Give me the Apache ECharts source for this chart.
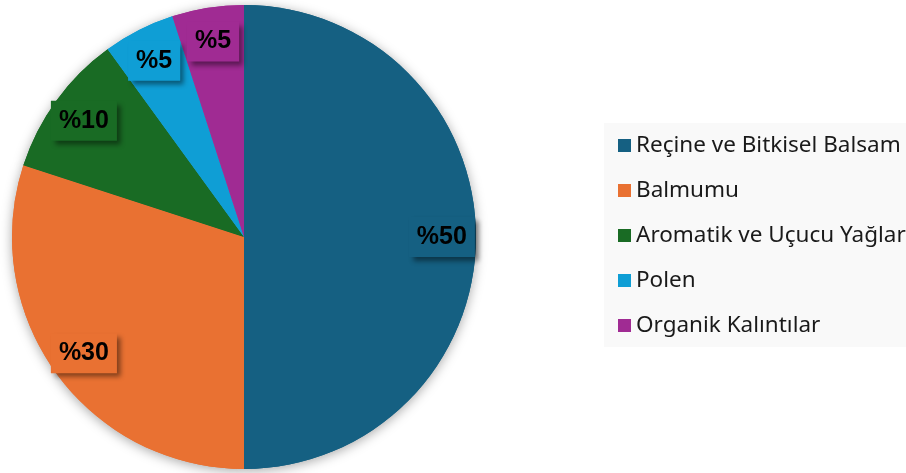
<!DOCTYPE html>
<html>
<head>
<meta charset="utf-8">
<title>Propolis Bileşimi</title>
<script src="https://cdn.jsdelivr.net/npm/echarts@6/dist/echarts.min.js"></script>
<style>
  html, body { margin: 0; padding: 0; background: #ffffff; }
  #chart { width: 906px; height: 473px; }
</style>
</head>
<body>
<div id="chart"></div>
<script>
// Bileşen adları, yüzdeleri ve dilim renkleri
const categories = [
  'Reçine ve Bitkisel Balsam',
  'Balmumu',
  'Aromatik ve Uçucu Yağlar',
  'Polen',
  'Organik Kalıntılar'
];
const values = [50, 30, 10, 5, 5];
const colors = ['#156082', '#E97132', '#196B24', '#0F9ED5', '#A02B93'];

const center = [244, 237];
const radius = 232;

const pieData = categories.map((name, i) => ({
  name: name,
  value: values[i],
  itemStyle: { color: colors[i] }
}));

// Etiket kutuları dilim rengini taşır
const labelData = categories.map((name, i) => ({
  name: name,
  value: values[i],
  label: { backgroundColor: colors[i] }
}));

const chart = echarts.init(document.getElementById('chart'), null, { renderer: 'canvas' });

chart.setOption({
  animation: false,
  legend: {
    orient: 'vertical',
    left: 604,
    top: 123,
    data: categories,
    icon: 'rect',
    itemWidth: 13,
    itemHeight: 13,
    itemGap: 22,
    padding: [11, 10, 10, 14],
    backgroundColor: '#f9f9f9',
    selectedMode: false,
    textStyle: {
      fontFamily: 'Noto Sans',
      fontSize: 22.5,
      lineHeight: 22,
      color: '#1a1a1a'
    }
  },
  series: [
    {
      // Görünen pasta
      type: 'pie',
      name: 'Bileşim',
      center: center,
      radius: [0, radius],
      startAngle: 90,
      clockwise: true,
      z: 3,
      silent: true,
      label: { show: false },
      labelLine: { show: false },
      emphasis: { disabled: true },
      data: pieData
    },
    {
      // Pastanın altındaki yumuşak gölge
      type: 'pie',
      name: 'Gölge',
      center: center,
      radius: [0, radius],
      startAngle: 90,
      z: 1,
      silent: true,
      label: { show: false },
      labelLine: { show: false },
      emphasis: { disabled: true },
      itemStyle: {
        shadowBlur: 12,
        shadowColor: 'rgba(0,0,0,0.35)',
        shadowOffsetY: 2
      },
      data: pieData
    },
    {
      // Kenara yakın yerleşen yüzde etiketleri
      type: 'pie',
      name: 'Etiketler',
      center: center,
      radius: [radius * 0.68, radius],
      startAngle: 90,
      z: 5,
      silent: true,
      itemStyle: { color: 'rgba(0,0,0,0)' },
      labelLine: { show: false },
      emphasis: { disabled: true },
      label: {
        show: true,
        position: 'inside',
        formatter: p => '%' + p.value,
        fontFamily: 'Liberation Sans',
        fontWeight: 'bold',
        fontSize: 25,
        lineHeight: 24,
        color: '#000000',
        padding: [8, 8, 8, 8],
        shadowBlur: 5,
        shadowOffsetX: 4,
        shadowOffsetY: 4,
        shadowColor: 'rgba(0,0,0,0.45)'
      },
      data: labelData
    }
  ]
});
</script>
</body>
</html>
